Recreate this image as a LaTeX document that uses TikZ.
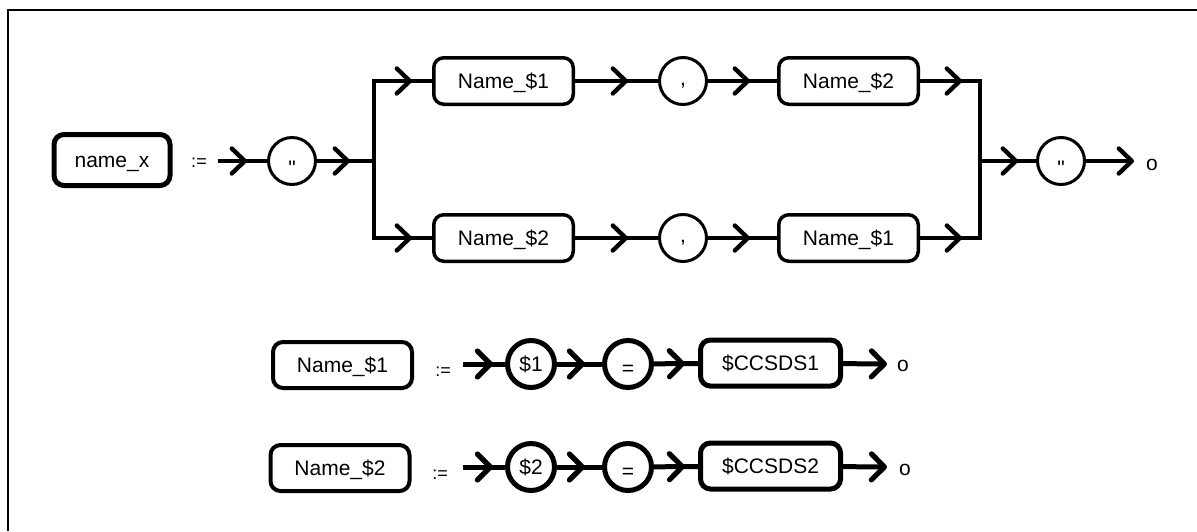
\documentclass[tikz,border=0pt]{standalone}
\usepackage{fontspec}
\setmainfont{Liberation Sans}
\usetikzlibrary{arrows.meta, decorations.markings}
\tikzset{
  nonterm/.style={draw, rounded corners=5pt, inner sep=0pt, text height=7.5pt, text depth=0pt},
  term/.style={draw, circle, minimum size=23.5pt, inner sep=0pt, text height=7.5pt, text depth=0pt},
  defsym/.style={font=\fontsize{9pt}{11pt}\selectfont},
  flow/.style={decoration={markings, mark=at position -#1 with {\arrow{>}}}, postaction={decorate}},
  thinline/.style={line width=1.7pt, >={Straight Barb[length=6.5pt, width=12.5pt, line width=2.2pt, line cap=round, line join=round]}},
  thickline/.style={line width=2.5pt, >={Straight Barb[length=6.5pt, width=13pt, line width=2.6pt, line cap=round, line join=round]}}
}

\begin{document}
\begin{tikzpicture}[x=0.5pt, y=-0.5pt, font=\fontsize{10.5pt}{12pt}\selectfont]
\useasboundingbox (0,0) rectangle (1197,531);
\draw[line width=1pt] (8,531) -- (8,10) -- (1197,10);

\node[nonterm, line width=2.5pt, minimum width=58pt, minimum height=25.5pt] (namex) at (112,160) {name\_x\hspace{7.5pt}};
\node[defsym] (def0) at (199,163) {:=};
\coordinate (s0) at (218,161);
\node[term, line width=1.5pt] (q1) at (292,161) {\raisebox{-3.5pt}{\textquotedbl}};
\coordinate (jl) at (374,161);
\coordinate (jlt) at (374,81);
\coordinate (jlb) at (374,238);
\node[nonterm, line width=1.75pt, minimum width=69.75pt, minimum height=23.25pt] (n1a) at (503.5,81) {Name\_\$1};
\node[term, line width=1.5pt] (c1) at (683,81) {\raisebox{1.5pt}{,}};
\node[nonterm, line width=1.75pt, minimum width=69.75pt, minimum height=23.25pt] (n2a) at (848.5,81) {Name\_\$2};
\node[nonterm, line width=1.75pt, minimum width=69.75pt, minimum height=23.25pt] (n2b) at (503.5,238) {Name\_\$2};
\node[term, line width=1.5pt] (c2) at (683,238) {\raisebox{1.5pt}{,}};
\node[nonterm, line width=1.75pt, minimum width=69.75pt, minimum height=23.25pt] (n1b) at (848.5,238) {Name\_\$1};
\coordinate (jr) at (980,161);
\coordinate (jrt) at (980,81);
\coordinate (jrb) at (980,238);
\node[term, line width=1.5pt] (q2) at (1061,161) {\raisebox{-3.5pt}{\textquotedbl}};
\coordinate (e0) at (1134,161);
\node (o0) at (1152,165) {o};

\draw[thinline, flow=10pt] (s0) -- (q1);
\draw[thinline, flow=12pt] (q1) -- (jl);
\draw[thinline, line cap=rect] (jlt) -- (jlb);
\draw[thinline, flow=10pt] (jlt) -- (n1a);
\draw[thinline, flow=15pt] (n1a) -- (c1);
\draw[thinline, flow=13.5pt] (c1) -- (n2a);
\draw[thinline, flow=9pt] (n2a) -- (jrt);
\draw[thinline, flow=10pt] (jlb) -- (n2b);
\draw[thinline, flow=15pt] (n2b) -- (c2);
\draw[thinline, flow=13.5pt] (c2) -- (n1b);
\draw[thinline, flow=9pt] (n1b) -- (jrb);
\draw[thinline, line cap=rect] (jrt) -- (jrb);
\draw[thinline, flow=9pt] (jr) -- (q2);
\draw[thinline, ->] (q2) -- (e0);

\node[nonterm, line width=2pt, minimum width=69.5pt, minimum height=23pt] (nd1) at (342.5,365) {Name\_\$1};
\node[defsym] (def1) at (443,372) {:=};
\coordinate (s1) at (463,364);
\node[term, line width=2.5pt] (d1) at (531,364) {\$1};
\node[term, line width=2.5pt] (eq1) at (628,364) {\raisebox{-2pt}{=}};
\node[nonterm, line width=2.5pt, minimum width=70pt, minimum height=23pt] (cc1) at (770.5,363) {\$CCSDS1\hspace{7.5pt}};
\coordinate (e1) at (887,364);
\node (o1) at (903,366) {o};

\draw[thickline, flow=6pt] (s1) -- (d1);
\draw[thickline, flow=8.5pt] (d1) -- (eq1);
\draw[thickline, flow=6.5pt] (eq1) -- (cc1);
\draw[thickline, ->] (cc1) -- (e1);

\node[nonterm, line width=2pt, minimum width=69.5pt, minimum height=23pt] (nd2) at (340,468) {Name\_\$2};
\node[defsym] (def2) at (440,475) {:=};
\coordinate (s2) at (463,467);
\node[term, line width=2.5pt] (d2) at (531,467) {\$2};
\node[term, line width=2.5pt] (eq2) at (628,467) {\raisebox{-2pt}{=}};
\node[nonterm, line width=2.5pt, minimum width=70pt, minimum height=23pt] (cc2) at (770.5,466) {\$CCSDS2\hspace{7.5pt}};
\coordinate (e2) at (887,467);
\node (o2) at (905,470) {o};

\draw[thickline, flow=6pt] (s2) -- (d2);
\draw[thickline, flow=8.5pt] (d2) -- (eq2);
\draw[thickline, flow=6.5pt] (eq2) -- (cc2);
\draw[thickline, ->] (cc2) -- (e2);
\end{tikzpicture}
\end{document}
